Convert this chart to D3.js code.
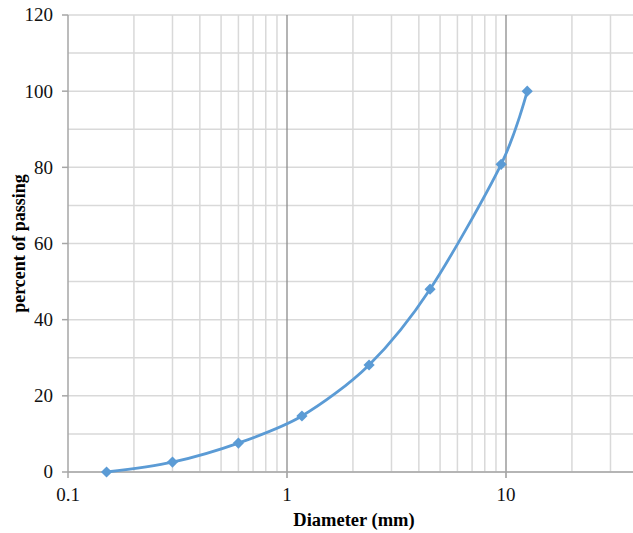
<!DOCTYPE html>
<html>
<head>
<meta charset="utf-8">
<script src="https://cdn.jsdelivr.net/npm/d3@7"></script>
<style>
  body { margin: 0; background: #fff; }
  text { font-family: "Liberation Serif", "Times New Roman", serif; }
</style>
</head>
<body>
<div class="canvas"></div>
<script>
// sieve data
const diameters = [0.15, 0.3, 0.6, 1.17, 2.37, 4.5, 9.5, 12.5];
const passing = [0, 2.6, 7.6, 14.7, 28.1, 48, 80.8, 100];

const yTicks = [0, 20, 40, 60, 80, 100, 120];
const yGrid = [0, 10, 20, 30, 40, 50, 60, 70, 80, 90, 100, 110, 120];
const xTickLabels = [0.1, 1, 10];
const xMajor = [1, 10];
const xMinor = [0.2, 0.3, 0.4, 0.5, 0.6, 0.7, 0.8, 0.9,
                2, 3, 4, 5, 6, 7, 8, 9,
                20, 30, 40, 50, 60, 70, 80, 90];

const dims = { width: 633, height: 533 };
const plot = { left: 68, top: 15, bottom: 472, decade: 219 };

const svg = d3.select('.canvas')
    .append('svg')
    .attr('width', dims.width)
    .attr('height', dims.height);

const x = d3.scaleLog()
    .domain([0.1, 100])
    .range([plot.left, plot.left + plot.decade * 3]);

const y = d3.scaleLinear()
    .domain([0, 120])
    .range([plot.bottom, plot.top]);

// gridlines
const grid = svg.append('g');

grid.selectAll('line.hgrid')
    .data(yGrid)
    .enter().append('line')
        .attr('x1', plot.left)
        .attr('x2', dims.width)
        .attr('y1', d => y(d))
        .attr('y2', d => y(d))
        .attr('stroke', '#d9d9d9')
        .attr('stroke-width', 1.5);

grid.selectAll('line.minor')
    .data(xMinor)
    .enter().append('line')
        .attr('x1', d => x(d))
        .attr('x2', d => x(d))
        .attr('y1', plot.top)
        .attr('y2', plot.bottom)
        .attr('stroke', '#d9d9d9')
        .attr('stroke-width', 1.5);

grid.selectAll('line.major')
    .data(xMajor)
    .enter().append('line')
        .attr('x1', d => x(d))
        .attr('x2', d => x(d))
        .attr('y1', plot.top)
        .attr('y2', plot.bottom + 6)
        .attr('stroke', '#8c8c8c')
        .attr('stroke-width', 1.3);

// axes lines
svg.append('line')
    .attr('x1', plot.left).attr('x2', plot.left)
    .attr('y1', plot.top).attr('y2', plot.bottom + 6)
    .attr('stroke', '#a6a6a6')
    .attr('stroke-width', 1.5);

svg.append('line')
    .attr('x1', plot.left).attr('x2', dims.width)
    .attr('y1', plot.bottom).attr('y2', plot.bottom)
    .attr('stroke', '#a6a6a6')
    .attr('stroke-width', 1.5);

// y ticks + labels
svg.selectAll('line.ytick')
    .data(yTicks)
    .enter().append('line')
        .attr('x1', plot.left - 6)
        .attr('x2', plot.left)
        .attr('y1', d => y(d))
        .attr('y2', d => y(d))
        .attr('stroke', '#a6a6a6')
        .attr('stroke-width', 1.5);

svg.selectAll('text.ylab')
    .data(yTicks)
    .enter().append('text')
        .attr('x', 53)
        .attr('y', d => y(d))
        .attr('dy', '0.34em')
        .attr('text-anchor', 'end')
        .attr('font-size', 19)
        .attr('fill', '#111')
        .text(d => d);

svg.selectAll('text.xlab')
    .data(xTickLabels)
    .enter().append('text')
        .attr('x', d => x(d))
        .attr('y', 501)
        .attr('text-anchor', 'middle')
        .attr('font-size', 19)
        .attr('fill', '#111')
        .text(d => d);

// axis titles
svg.append('text')
    .attr('x', 354)
    .attr('y', 526)
    .attr('text-anchor', 'middle')
    .attr('font-size', 18.5)
    .attr('font-weight', 'bold')
    .text('Diameter (mm)');

svg.append('text')
    .attr('transform', `translate(25, ${(plot.top + plot.bottom) / 2}) rotate(-90)`)
    .attr('text-anchor', 'middle')
    .attr('font-size', 18)
    .attr('font-weight', 'bold')
    .text('percent of passing');

// curve
const pts = diameters.map((d, i) => ({ d: d, p: passing[i] }));

const line = d3.line()
    .x(d => x(d.d))
    .y(d => y(d.p))
    .curve(d3.curveCardinal.tension(0.1));

svg.append('path')
    .datum(pts)
    .attr('d', line)
    .attr('fill', 'none')
    .attr('stroke', '#5b9bd5')
    .attr('stroke-width', 2.8);

const diamond = d3.symbol().type(d3.symbolDiamond2).size(80);

svg.selectAll('path.marker')
    .data(pts)
    .enter().append('path')
        .attr('d', diamond)
        .attr('transform', d => `translate(${x(d.d)}, ${y(d.p)})`)
        .attr('fill', '#5b9bd5');
</script>
</body>
</html>
